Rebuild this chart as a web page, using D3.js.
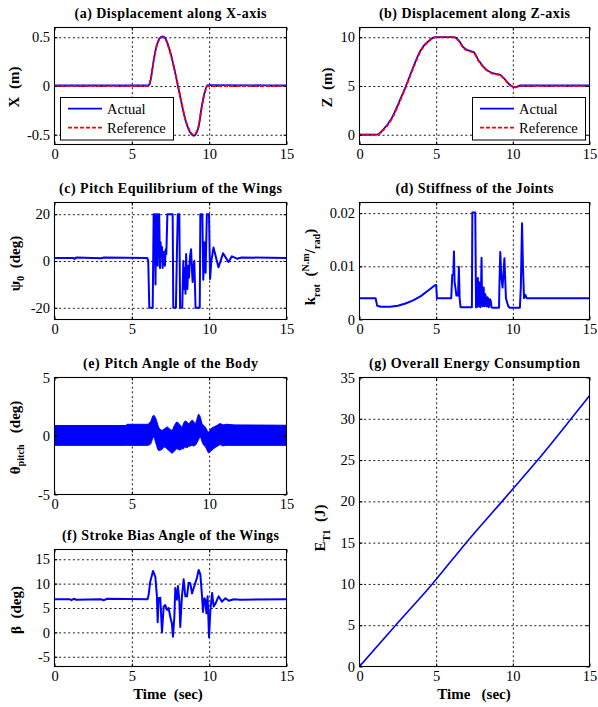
<!DOCTYPE html>
<html>
<head>
<meta charset="utf-8">
<script src="https://cdn.jsdelivr.net/npm/d3@7"></script>
<style>
  body { margin: 0; background: #fff; }
  svg { display: block; }
</style>
</head>
<body>
<svg id="fig" width="598" height="707"></svg>
<script>
// ---- shared axis values ----
const timeTicks = [0, 5, 10, 15];

// (a) displacement along X
const xTime = [0, 6.05, 6.15, 6.25, 6.4, 6.6, 6.8, 7.0, 7.2, 7.5, 7.9, 8.1, 8.45, 8.75, 9.0, 9.3, 9.5, 9.7, 9.9, 15];
const xRef  = [0, 0, 0.03, 0.1, 0.25, 0.41, 0.48, 0.5, 0.47, 0.33, 0.07, -0.08, -0.33, -0.46, -0.5, -0.42, -0.24, -0.08, 0, 0];
const xAct  = [0.005, 0.005, 0.02, 0.09, 0.25, 0.41, 0.49, 0.51, 0.48, 0.34, 0.06, -0.09, -0.34, -0.47, -0.51, -0.43, -0.23, -0.07, 0.01, 0.005];
const xTicks = [-0.5, 0, 0.5];

// (b) displacement along Z
const zTime = [0, 1.15, 1.5, 2.1, 2.65, 3.04, 3.52, 4.0, 4.6, 4.85, 5.0, 6.15, 6.46, 6.78, 7.1, 7.43, 7.76, 8.3, 8.63, 9.17, 9.5, 9.83, 10.15, 10.5, 15];
const zRef  = [0, 0, 0.4, 1.6, 3.5, 4.95, 6.9, 8.6, 9.7, 9.95, 10, 10, 9.65, 8.9, 8.6, 8.45, 7.6, 6.6, 6.3, 6.1, 5.6, 5.05, 4.9, 5, 5];
const zAct  = [0.02, 0.02, 0.45, 1.7, 3.6, 5.05, 7.0, 8.7, 9.75, 9.98, 10.02, 10.02, 9.7, 8.95, 8.65, 8.5, 7.65, 6.65, 6.35, 6.15, 5.65, 5.1, 4.85, 5.05, 5.05];
const zTicks = [0, 5, 10];

// (c) pitch equilibrium of the wings
const psiTime = [0, 1.2, 1.3, 1.4, 3.0, 3.2, 6.0, 6.06, 6.13, 6.35, 6.41, 6.47, 6.53, 6.57, 6.62, 6.67, 6.72, 6.77, 6.82, 6.86,
                 6.9, 6.95, 6.99, 7.03, 7.06, 7.1, 7.14, 7.19, 7.23, 7.3, 7.64, 7.68, 7.85, 7.92, 7.97, 8.07, 8.12, 8.26, 8.33, 8.37,
                 8.42, 8.47, 8.51, 8.55, 8.59, 8.65, 8.7, 8.76, 8.83, 8.88, 8.93, 8.98, 9.04, 9.12, 9.39, 9.43, 9.56, 9.62, 9.71, 9.77,
                 9.85, 9.99, 10.06, 10.14, 10.28, 10.6, 10.9, 11.25, 11.47, 11.8, 12.1, 15];
const psiVal  = [1.3, 1.3, 0.9, 1.5, 1.2, 1.5, 1.3, 0, -20, -20, 20, 20, -10, 20, 20, -2, 20, 20, -3, 8,
                 2, 6, -3, 2, 4, -1, -2, 5, 3, 20, 20, -20, -20, 5, 20, 20, -20, -20, 0, -12,
                 -3, -14, 3, -6, -12, -2, -7, 2, 5, -3, -9, -2, 0, -20, -20, 20, 20, -8, 8, -5,
                 20, 20, -7.7, 0, 5.8, -2.7, 3.3, -0.4, 2, 1, 1.5, 1.3];
const psiTicks = [-20, 0, 20];

// (d) stiffness of the joints
const kTime = [0, 1.05, 1.15, 1.4, 2.0, 2.5, 3.0, 3.5, 4.0, 4.5, 4.9, 5.0, 5.05, 5.98, 6.05, 6.12, 6.16, 6.2, 6.26, 6.32,
               6.43, 6.48, 6.53, 6.59, 7.33, 7.36, 7.55, 7.6, 7.63, 7.66, 7.69, 7.72, 7.75, 7.77, 7.8, 7.84, 7.86, 7.88, 7.92, 7.96,
               7.99, 8.02, 8.06, 8.1, 8.13, 8.16, 8.19, 8.22, 8.26, 8.3, 8.34, 8.38, 8.42, 8.46, 8.51, 8.56, 8.61, 8.66, 9.1, 9.13,
               9.18, 9.25, 9.33, 9.45, 9.55, 9.7, 9.8, 10.46, 10.52, 10.6, 10.66, 10.73, 10.82, 10.9, 15];
const kVal  = [0.004, 0.004, 0.0026, 0.0024, 0.0024, 0.0026, 0.003, 0.0036, 0.0044, 0.0055, 0.0064, 0.0065, 0.004, 0.004, 0.0084, 0.0085, 0.0128, 0.007, 0.0059, 0.0045,
               0.0045, 0.0099, 0.004, 0.0023, 0.0023, 0.0201, 0.0201, 0.0023, 0.005, 0.0023, 0.006, 0.0078, 0.0025, 0.003, 0.007, 0.006, 0.0025, 0.0023, 0.005, 0.0116,
               0.004, 0.0025, 0.0045, 0.006, 0.0025, 0.003, 0.0048, 0.0045, 0.0025, 0.0025, 0.0042, 0.004, 0.0023, 0.0025, 0.0038, 0.0035, 0.0023, 0.0022, 0.0022, 0.007,
               0.0127, 0.008, 0.006, 0.0115, 0.004, 0.0025, 0.0022, 0.0022, 0.006, 0.0181, 0.01, 0.004, 0.0046, 0.004, 0.004];
const kTicks = [0, 0.01, 0.02];

// (e) pitch angle of the body: envelope of the fast flapping oscillation
const pTime  = [0, 4.6, 4.7, 5.98, 6.2, 6.41, 6.55, 6.73, 6.95, 7.1, 7.27, 7.45, 7.59, 7.75, 7.92, 8.08, 8.24, 8.35, 8.46, 8.57,
                8.67, 8.78, 8.89, 9.0, 9.1, 9.2, 9.32, 9.43, 9.54, 9.65, 9.75, 9.86, 9.97, 10.1, 10.29, 10.5, 10.72, 10.9, 11.1, 11.36, 11.6, 15];
const pUpper = [0.9, 0.9, 1.0, 1.0, 1.2, 1.77, 1.5, 0.77, 0.49, 0.6, 0.77, 0.6, 0.49, 0.9, 1.2, 1.0, 0.77, 1.1, 1.29, 1.2,
                1.06, 1.2, 1.35, 1.25, 1.06, 1.4, 1.86, 1.6, 1.06, 0.9, 0.77, 0.5, 0.34, 0.6, 0.77, 0.9, 1.06, 0.95, 1.0, 0.98, 0.95, 0.92];
const pLower = [-0.8, -0.8, -0.8, -0.8, -0.7, -0.08, -0.6, -1.23, -1.15, -0.94, -1.1, -1.3, -1.46, -1.3, -1.08, -1.2, -1.1, -1.08, -0.95, -1.0,
                -0.9, -0.85, -0.8, -0.85, -0.8, -0.6, -0.3, -0.1, -0.5, -0.8, -0.9, -1.2, -1.45, -1.3, -1.08, -0.9, -0.75, -0.85, -0.8, -0.8, -0.8, -0.8];
const pTicks = [-5, 0, 5];

// (f) stroke bias angle of the wings
const bTime = [0, 1.0, 1.1, 1.25, 1.4, 3.0, 3.2, 3.4, 6.02, 6.09, 6.19, 6.37, 6.52, 6.62, 6.67, 6.73, 6.84, 6.95, 7.06, 7.16,
               7.27, 7.38, 7.49, 7.59, 7.66, 7.75, 7.81, 7.92, 7.98, 8.07, 8.13, 8.24, 8.35, 8.46, 8.57, 8.67, 8.78, 8.89, 8.99, 9.1,
               9.21, 9.32, 9.43, 9.54, 9.6, 9.69, 9.75, 9.82, 9.9, 9.99, 10.08, 10.19, 10.29, 10.42, 10.61, 10.83, 11.05, 11.27, 11.59, 12.02, 15];
const bVal  = [6.8, 6.8, 6.6, 6.9, 6.7, 6.8, 6.6, 6.9, 6.8, 7.8, 10.4, 12.6, 11.4, 7.5, 2.1, 7, 7.1, 0, 5.3, 5.6,
               4.6, 5.0, 3.1, 1.8, -0.9, 3.2, 9.1, 6.7, 9.5, 6.7, 1.1, 7.4, 10.9, 7.4, 7.4, 10.2, 10.1, 8, 9, 10.1,
               11.2, 12.8, 11.9, 7.4, 4.2, 7, 6.7, 3.9, 7.4, -1, 4.6, 8.1, 5.3, 6, 7.4, 6.3, 7, 6.5, 6.8, 6.7, 6.8];
const bTicks = [-5, 0, 5, 10, 15];

// (g) overall energy consumption
const eTime = [0, 2.36, 4.75, 6.96, 9.3, 11.62, 13.8, 15];
const eVal  = [0, 5, 10, 15, 20, 25, 30, 32.8];
const eTicks = [0, 5, 10, 15, 20, 25, 30, 35];

// ---- drawing ----
const FONT = '"Liberation Serif","Times New Roman",Times,serif';
const BLUE = '#0000ff', RED = '#ff0000';
const svg = d3.select('#fig').attr('font-family', FONT);
svg.append('rect').attr('width', 598).attr('height', 707).attr('fill', '#fff');

const LEFT = [54.5, 286.5], RIGHT = [359.5, 589.5];
let clipId = 0;

function fmt(v) { return String(v); }

function panel(o) {
  const x = d3.scaleLinear().domain([0, 15]).range(o.xr);
  const y = d3.scaleLinear().domain(o.yd).range(o.yr);
  const top = o.yr[1], bottom = o.yr[0], left = o.xr[0], right = o.xr[1];
  const h = bottom - top, w = right - left;
  const g = svg.append('g');

  // dotted grid
  const gridStyle = s => s.select('.domain').remove();
  const vg = g.append('g').attr('transform', `translate(0,${bottom})`)
    .call(d3.axisBottom(x).tickValues(timeTicks.filter(t => t > 0 && t < 15)).tickSize(-h).tickFormat(''))
    .call(gridStyle);
  vg.selectAll('line').attr('stroke', '#000').attr('stroke-width', 0.9).attr('stroke-dasharray', '2,2.6');
  if (o.hgrid !== false) {
    const inner = o.yt.filter(v => Math.abs(y(v) - top) > 1 && Math.abs(y(v) - bottom) > 1);
    const hg = g.append('g').attr('transform', `translate(${left},0)`)
      .call(d3.axisLeft(y).tickValues(inner).tickSize(-w).tickFormat(''))
      .call(gridStyle);
    hg.selectAll('line').attr('stroke', '#000').attr('stroke-width', 0.9).attr('stroke-dasharray', '2,2.6');
  }

  // clip region for the data
  const id = 'clip' + (clipId++);
  g.append('clipPath').attr('id', id).append('rect')
    .attr('x', left).attr('y', top).attr('width', w).attr('height', h);
  const data = g.append('g').attr('clip-path', `url(#${id})`);

  // axes with inward ticks on all four sides
  const styleAxis = s => {
    s.select('.domain').remove();
    s.selectAll('line').attr('stroke', '#000');
    s.attr('font-family', FONT).attr('font-size', 14.5);
    s.selectAll('text').attr('fill', '#000');
  };
  const ax = g.append('g');
  ax.append('g').attr('transform', `translate(0,${bottom})`)
    .call(d3.axisBottom(x).tickValues(timeTicks).tickSizeInner(-3).tickSizeOuter(0).tickPadding(4.2).tickFormat(fmt))
    .call(styleAxis);
  ax.append('g').attr('transform', `translate(0,${top})`)
    .call(d3.axisTop(x).tickValues(timeTicks).tickSizeInner(-3).tickSizeOuter(0).tickFormat(''))
    .call(styleAxis);
  ax.append('g').attr('transform', `translate(${left},0)`)
    .call(d3.axisLeft(y).tickValues(o.yt).tickSizeInner(-3).tickSizeOuter(0).tickPadding(4.5).tickFormat(fmt))
    .call(styleAxis);
  ax.append('g').attr('transform', `translate(${right},0)`)
    .call(d3.axisRight(y).tickValues(o.yt).tickSizeInner(-3).tickSizeOuter(0).tickFormat(''))
    .call(styleAxis);

  // frame
  g.append('rect').attr('x', left).attr('y', top).attr('width', w).attr('height', h)
    .attr('fill', 'none').attr('stroke', '#000').attr('stroke-width', 1.1);

  // title
  g.append('text').attr('x', (left + right) / 2).attr('y', top - 10)
    .attr('text-anchor', 'middle').attr('font-weight', 'bold').attr('font-size', 14)
    .attr('textLength', o.titleLen).attr('lengthAdjust', 'spacing')
    .text(o.title);

  // y label (rotated, with sub/superscripts)
  const yl = g.append('text')
    .attr('transform', `translate(${o.yl[0]},${o.yl[1]}) rotate(-90)`)
    .attr('text-anchor', 'middle').attr('font-weight', 'bold').attr('font-size', 15)
    .style('white-space', 'pre');
  rich(yl, o.ylabel, 15);

  if (o.xlabel) {
    g.append('text').attr('x', o.xlabel[1]).attr('y', bottom + 32)
      .attr('text-anchor', 'middle').attr('font-weight', 'bold').attr('font-size', 15)
      .style('white-space', 'pre').text(o.xlabel[0]);
  }
  return { x, y, data, g, top, bottom, left, right };
}

function rich(textSel, parts, base) {
  let shift = 0;
  parts.forEach(([s, kind]) => {
    const fs = kind === 'n' ? base : base * 0.68;
    const target = kind === 'sub' ? base * 0.3 : kind === 'sup' ? -base * 0.42 : 0;
    const t = textSel.append('tspan').attr('font-size', fs).text(s);
    if (target !== shift) { t.attr('dy', target - shift); shift = target; }
  });
}

function drawLine(p, ts, vs, color, opts = {}) {
  const line = d3.line()
    .x(d => p.x(d[0])).y(d => p.y(d[1]))
    .curve(opts.curve || d3.curveLinear);
  p.data.append('path').datum(d3.zip(ts, vs))
    .attr('d', line).attr('fill', 'none')
    .attr('stroke', color).attr('stroke-width', opts.width || 1.8)
    .attr('stroke-linejoin', 'round')
    .attr('stroke-dasharray', opts.dash || null);
}

function legend(p, x0) {
  const y0 = 97.5;
  const lg = p.g.append('g');
  lg.append('rect').attr('x', x0).attr('y', y0).attr('width', 113).attr('height', 42.5)
    .attr('fill', '#fff').attr('stroke', '#000').attr('stroke-width', 1);
  const rows = [['Actual', BLUE, null, 11.2], ['Reference', RED, '4,2', 30.2]];
  rows.forEach(([name, c, dash, dy]) => {
    lg.append('line').attr('x1', x0 + 7.5).attr('x2', x0 + 41.5)
      .attr('y1', y0 + dy).attr('y2', y0 + dy)
      .attr('stroke', c).attr('stroke-width', 1.8).attr('stroke-dasharray', dash);
    lg.append('text').attr('x', x0 + 46.5).attr('y', y0 + dy + 4.8)
      .attr('font-size', 14.5).text(name);
  });
}

// (a)
const pa = panel({ xr: LEFT, yr: [144.5, 27.5], yd: [-0.6, 0.6], yt: xTicks,
  title: '(a) Displacement along X-axis', titleLen: 192,
  yl: [18.5, 87], ylabel: [['X  (m)', 'n']] });
drawLine(pa, xTime, xAct, BLUE, { curve: d3.curveMonotoneX });
drawLine(pa, xTime, xRef, RED, { curve: d3.curveMonotoneX, dash: '4,2' });
legend(pa, 60.5);

// (b)
const pb = panel({ xr: RIGHT, yr: [144.5, 27.5], yd: [-1, 11], yt: zTicks,
  title: '(b) Displacement along Z-axis', titleLen: 191,
  yl: [332, 87.5], ylabel: [['Z  (m)', 'n']] });
drawLine(pb, zTime, zAct, BLUE, { curve: d3.curveMonotoneX });
drawLine(pb, zTime, zRef, RED, { curve: d3.curveMonotoneX, dash: '4,2' });
legend(pb, 472.5);

// (c)
const pc = panel({ xr: LEFT, yr: [319.5, 202.5], yd: [-25, 25], yt: psiTicks,
  title: '(c) Pitch Equilibrium of the Wings', titleLen: 223,
  yl: [19.5, 263.5], ylabel: [['ψ', 'n'], ['0', 'sub'], ['  (deg)', 'n']] });
drawLine(pc, psiTime, psiVal, BLUE, { width: 2 });

// (d)
const pd = panel({ xr: RIGHT, yr: [319.5, 202.5], yd: [0, 0.022], yt: kTicks,
  title: '(d) Stiffness of the Joints', titleLen: 158,
  yl: [315, 267], ylabel: [['k', 'n'], ['rot', 'sub'], ['  (', 'n'], ['N.m', 'sup'], ['/', 'n'], ['rad', 'sub'], [')', 'n']] });
drawLine(pd, kTime, kVal, BLUE, { width: 2 });

// (e) band of the fast oscillation
const pe = panel({ xr: LEFT, yr: [494.5, 377.5], yd: [-5, 5], yt: pTicks, hgrid: false,
  title: '(e) Pitch Angle of the Body', titleLen: 175,
  yl: [19.5, 437.5], ylabel: [['θ', 'n'], ['pitch', 'sub'], ['   (deg)', 'n']] });
const band = d3.area()
  .x(d => pe.x(d[0])).y0(d => pe.y(d[2])).y1(d => pe.y(d[1]))
  .curve(d3.curveMonotoneX);
pe.data.append('path').datum(d3.zip(pTime, pUpper, pLower))
  .attr('d', band).attr('fill', BLUE).attr('stroke', BLUE).attr('stroke-width', 1);

// (f)
const pf = panel({ xr: LEFT, yr: [666.5, 549.5], yd: [-7, 17], yt: bTicks,
  title: '(f) Stroke Bias Angle of the Wings', titleLen: 217,
  yl: [21, 610], ylabel: [['β', 'n'], ['  (deg)', 'n']],
  xlabel: ['Time  (sec)', 168] });
drawLine(pf, bTime, bVal, BLUE, { width: 2 });

// (g)
const pg = panel({ xr: RIGHT, yr: [666.5, 377.5], yd: [0, 35], yt: eTicks,
  title: '(g) Overall Energy Consumption', titleLen: 211,
  yl: [325, 528], ylabel: [['E', 'n'], ['T1', 'sub'], ['  (J)', 'n']],
  xlabel: ['Time   (sec)', 474] });
drawLine(pg, eTime, eVal, BLUE, { curve: d3.curveMonotoneX, width: 1.6 });
</script>
</body>
</html>
